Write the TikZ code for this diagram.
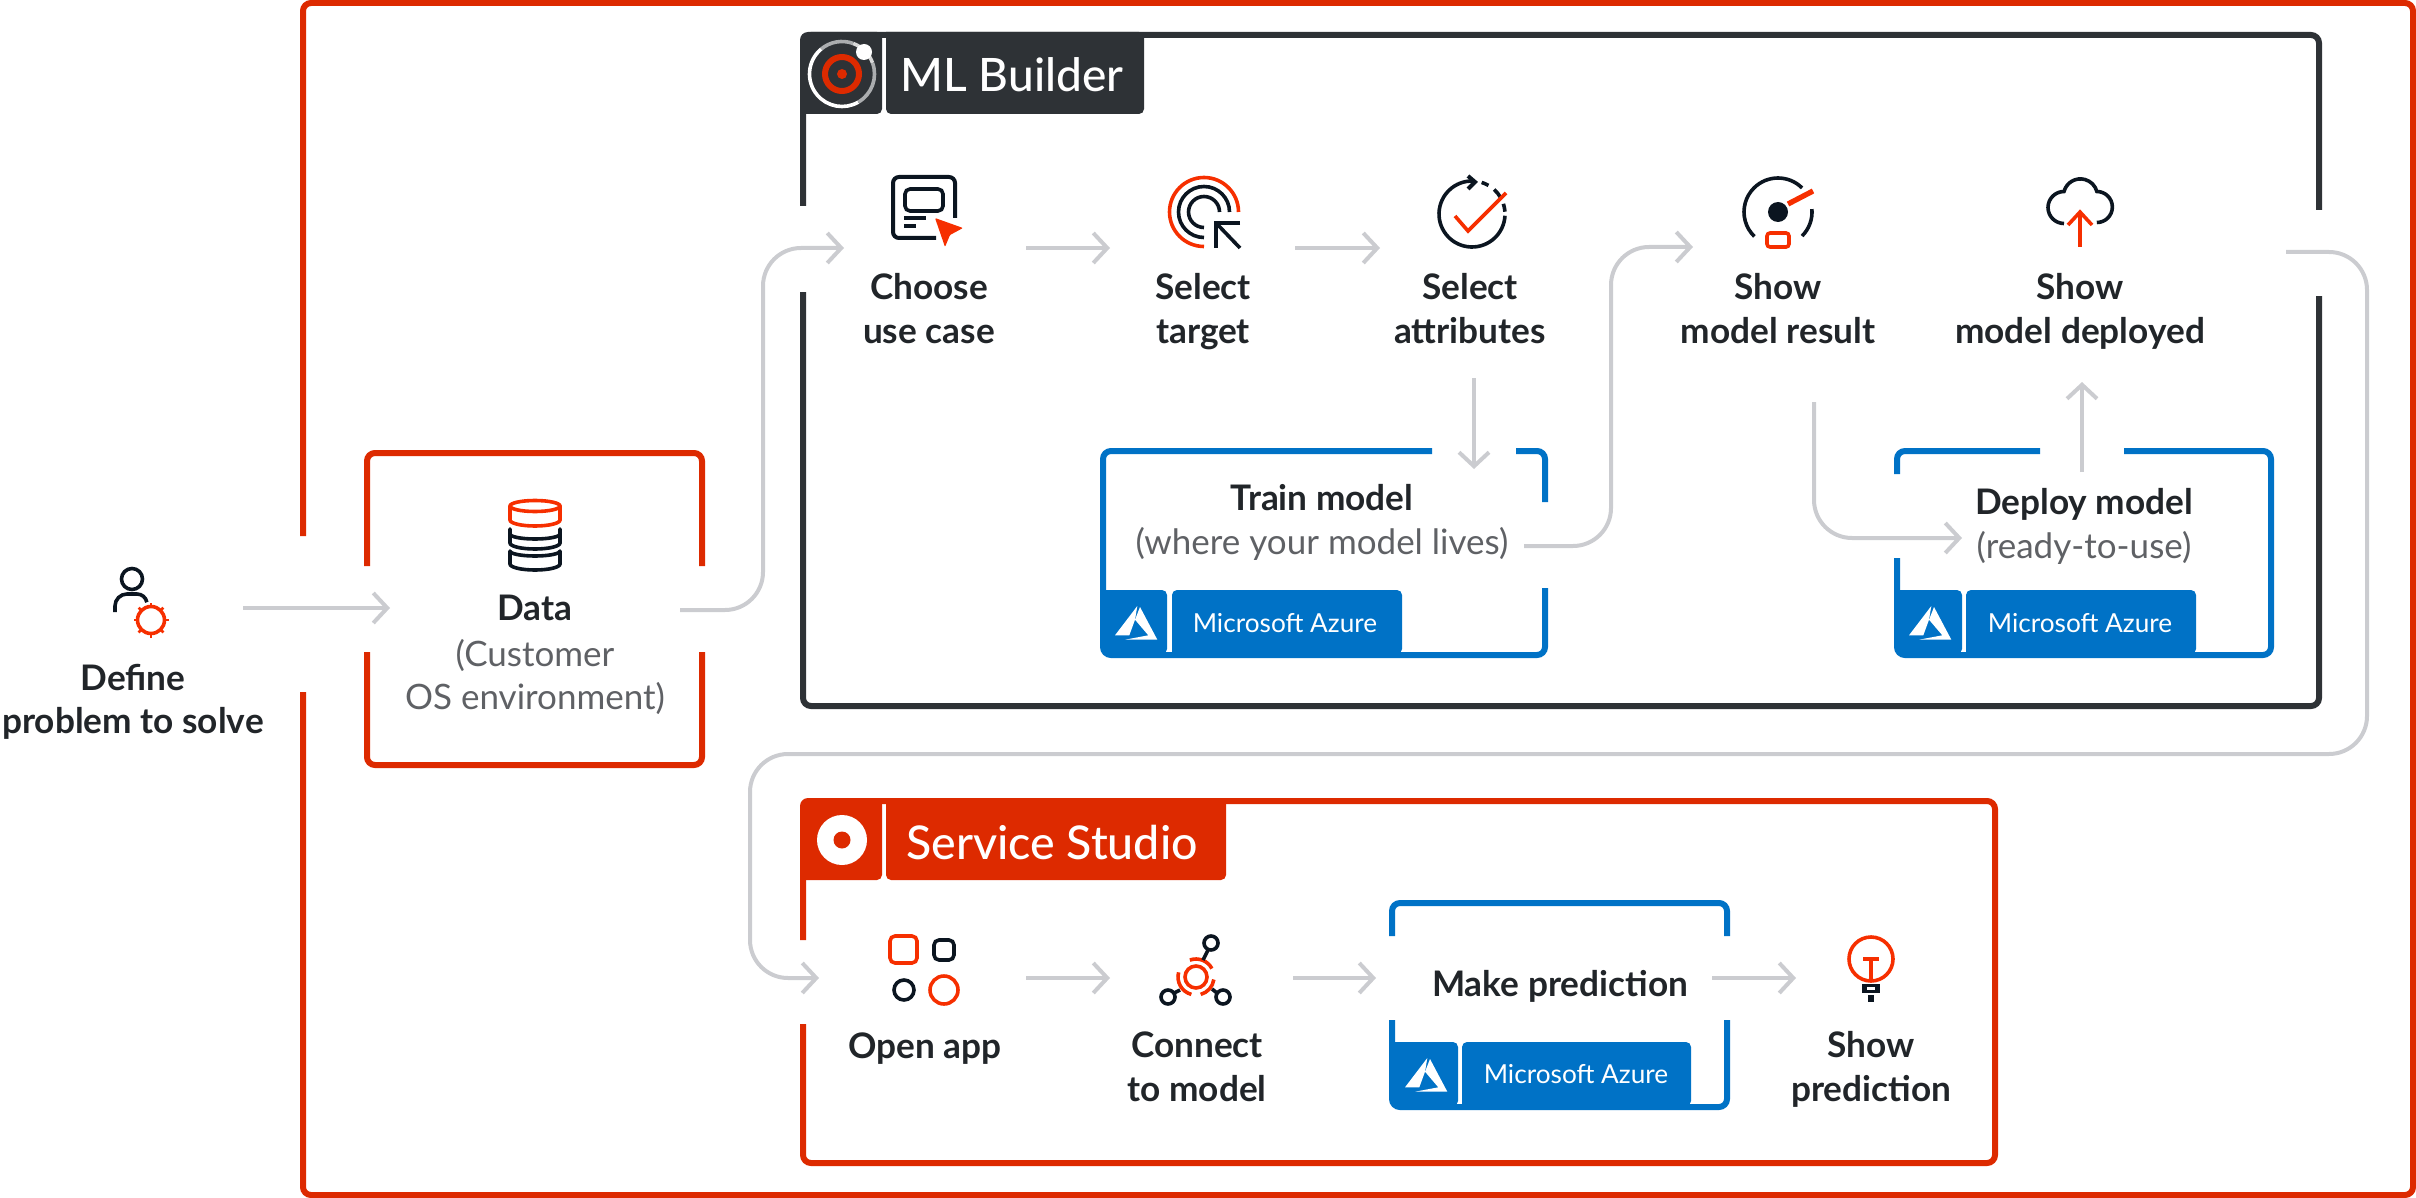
\documentclass[tikz,border=0pt]{standalone}
\usepackage{fontspec}
\setmainfont{Lato}
\newfontface\lblmed{Lato Medium}
\usetikzlibrary{arrows.meta}
\definecolor{framered}{HTML}{DD2A00}
\definecolor{iconred}{HTML}{F62F00}
\definecolor{azblue}{HTML}{0072C6}
\definecolor{darkframe}{HTML}{2E3236}
\definecolor{iconblack}{HTML}{0B1520}
\definecolor{txtdark}{HTML}{212529}
\definecolor{txtgrey}{HTML}{5F6165}
\definecolor{connc}{HTML}{CBCCD0}
\newcommand{\AzureLogo}[2]{%
  \begin{scope}[shift={(#1,#2)}]
    \fill[white] (1.3,16) -- (-21,-13.3) -- (-6.7,-13.3) -- (-1,2.3) -- cycle;
    \fill[white] (4,15) -- (21.3,-17.7) -- (-11,-17.7) -- (12.3,-13.3) -- (-1,2.3) -- cycle;
  \end{scope}}
\newcommand{\AzureTabs}[6]{%
  \fill[azblue] (#1,-#6) -- (#1,-#5) [rounded corners=5pt] -- (#2,-#5) -- (#2,-#6) [sharp corners] -- cycle;
  \fill[azblue] (#3,-#6) [rounded corners=5pt] -- (#3,-#5) -- (#4,-#5) -- (#4,-#6) [sharp corners] -- cycle;}
\tikzset{
  redframe/.style={draw=framered,line width=6pt,rounded corners=8pt},
  darkbox/.style={draw=darkframe,line width=6pt,rounded corners=8pt},
  blueframe/.style={draw=azblue,line width=6pt,rounded corners=8pt},
  conn/.style={draw=connc,line width=4pt,rounded corners=38pt,-{Straight Barb[length=14pt,width=30pt]}},
  ikb/.style={draw=iconblack,line width=3.6pt},
  ikr/.style={draw=iconred,line width=3.6pt},
  head/.style={inner sep=0pt,anchor=base,align=center,text=txtdark,font=\bfseries\fontsize{35.2}{43.5}\selectfont},
  sub/.style={inner sep=0pt,anchor=base,align=center,text=txtgrey,font=\fontsize{35}{43.5}\selectfont},
  aztext/.style={inner sep=0pt,anchor=base,text=white,font=\fontsize{26.2}{30}\selectfont},
}
\begin{document}
\begin{tikzpicture}[x=1pt,y=1pt]
\useasboundingbox (0,0) rectangle (2416,-1198);
% outer frame
\path[redframe] (303,-536) -- (303,-3) -- (2413,-3) -- (2413,-1195) -- (303,-1195) -- (303,-692);
% data frame
\path[redframe] (367,-566) -- (367,-453) -- (702,-453) -- (702,-566);
\path[redframe] (702,-652) -- (702,-765) -- (367,-765) -- (367,-652);
% ML Builder frame
\path[darkbox] (803,-206) -- (803,-35) -- (2319,-35) -- (2319,-210);
\path[darkbox] (2319,-296) -- (2319,-706) -- (803,-706) -- (803,-292);
\fill[darkframe] (800,-114) [rounded corners=5pt] -- (882,-114) -- (882,-32) [sharp corners] -- (808,-32) [rounded corners=8pt] -- (800,-32) [sharp corners] -- cycle;
\fill[darkframe] (886,-32) [rounded corners=5pt] -- (886,-114) -- (1144,-114) -- (1144,-32) [sharp corners] -- cycle;
\node[inner sep=0pt,anchor=base,text=white,font=\lblmed\fontsize{46}{50}\selectfont] (mlb) at (1012,-92) {ML Builder};
% ML logo
\draw[line width=3.6pt,draw=white!85!black] (842,-74) ++(20:32.5) arc (20:70:32.5);
\draw[line width=3.6pt,draw=white!60!darkframe] (842,-74) ++(70:32.5) arc (70:130:32.5);
\draw[line width=3.6pt,draw=white] (842,-74) ++(130:32.5) arc (130:300:32.5);
\draw[line width=3.6pt,draw=white!60!darkframe] (842,-74) ++(300:32.5) arc (300:380:32.5);
\draw[draw=framered,line width=6pt] (842,-74) circle (17);
\fill[framered] (842,-74) circle (5);
\fill[white] (864,-52) circle (8);
% Service Studio frame
\path[redframe] (803,-940) -- (803,-801) -- (1995,-801) -- (1995,-1163) -- (803,-1163) -- (803,-1024);
\fill[framered] (800,-880) [rounded corners=5pt] -- (882,-880) -- (882,-798) [sharp corners] -- (808,-798) [rounded corners=8pt] -- (800,-798) [sharp corners] -- cycle;
\fill[framered] (886,-798) [rounded corners=5pt] -- (886,-880) -- (1226,-880) -- (1226,-798) [sharp corners] -- cycle;
\node[inner sep=0pt,anchor=base,text=white,font=\lblmed\fontsize{46.5}{50}\selectfont] (ss) at (1052,-859) {Service Studio};
\fill[white] (842,-840) circle (25);
\fill[framered] (842,-840) circle (8.5);
% Train box
\path[blueframe] (1432,-451) -- (1103,-451) -- (1103,-655) -- (1545,-655) -- (1545,-588);
\path[blueframe] (1545,-502) -- (1545,-451) -- (1516,-451);
\AzureTabs{1103}{1167}{1172}{1402}{590}{654}
\AzureLogo{1136}{-622}
\node[aztext] (az1) at (1285,-632) {Microsoft Azure};
% Deploy box
\path[blueframe] (2040,-451) -- (1897,-451) -- (1897,-474);
\path[blueframe] (1897,-558) -- (1897,-655) -- (2271,-655) -- (2271,-451) -- (2124,-451);
\AzureTabs{1897}{1962}{1966}{2196}{590}{654}
\AzureLogo{1930}{-622}
\node[aztext] (az2) at (2080,-632) {Microsoft Azure};
% Make prediction box
\path[blueframe] (1392,-936) -- (1392,-903) -- (1727,-903) -- (1727,-936);
\path[blueframe] (1727,-1020) -- (1727,-1107) -- (1392,-1107) -- (1392,-1020);
\AzureTabs{1392}{1458}{1462}{1691}{1042}{1106}
\AzureLogo{1426}{-1074}
\node[aztext] (az3) at (1576,-1083) {Microsoft Azure};
% labels (a many-line node is anchored at the baseline of its last line)
\node[head] (define) at (133,-733.5) {Define\\problem to solve};
\node[head] (data) at (535,-620) {Data};
\node[sub] (datasub) at (535,-709.5) {(Customer\\OS environment)};
\node[head] (choose) at (929,-343) {Choose\\use case};
\node[head] (target) at (1203,-343) {Select\\target};
\node[head] (attrs) at (1470,-343) {Select\\attributes};
\node[head] (result) at (1778,-343) {Show\\model result};
\node[head] (deployed) at (2080,-343) {Show\\model deployed};
\node[head] (train) at (1322,-510) {Train model};
\node[sub] (trainsub) at (1322,-554.5) {(where your model lives)};
\node[head] (deploy) at (2084,-514.5) {Deploy model};
\node[sub] (deploysub) at (2084,-558) {(ready-to-use)};
\node[head] (open) at (925,-1058) {Open app};
\node[head] (connect) at (1197,-1101) {Connect\\to model};
\node[head] (make) at (1560,-996) {Make prediction};
\node[head] (showp) at (1871,-1101) {Show\\prediction};
% connector ends
\coordinate (c1a) at (243,-608); \coordinate (c1b) at (390,-608);
\coordinate (c2a) at (680,-610); \coordinate (c2m) at (763,-610); \coordinate (c2n) at (763,-248); \coordinate (c2b) at (844,-248);
\coordinate (c3a) at (1026,-248); \coordinate (c3b) at (1110,-248);
\coordinate (c4a) at (1295,-248); \coordinate (c4b) at (1380,-248);
\coordinate (c5a) at (1474,-378); \coordinate (c5b) at (1474,-469);
\coordinate (c6a) at (1524,-546); \coordinate (c6m) at (1611,-546); \coordinate (c6n) at (1611,-247); \coordinate (c6b) at (1693,-247);
\coordinate (c7a) at (1814,-402); \coordinate (c7m) at (1814,-538); \coordinate (c7b) at (1962,-538);
\coordinate (c8a) at (2082,-472); \coordinate (c8b) at (2082,-382);
\coordinate (c9a) at (2286,-252); \coordinate (c9m) at (2367,-252); \coordinate (c9n) at (2367,-754); \coordinate (c9o) at (750,-754); \coordinate (c9p) at (750,-978); \coordinate (c9b) at (819,-978);
\coordinate (c10a) at (1026,-978); \coordinate (c10b) at (1110,-978);
\coordinate (c11a) at (1293,-978); \coordinate (c11b) at (1376,-978);
\coordinate (c12a) at (1712,-978); \coordinate (c12b) at (1796,-978);
\draw[conn] (c1a) -- (c1b);
\draw[conn] (c2a) -- (c2m) -- (c2n) -- (c2b);
\draw[conn] (c3a) -- (c3b);
\draw[conn] (c4a) -- (c4b);
\draw[conn] (c5a) -- (c5b);
\draw[conn] (c6a) -- (c6m) -- (c6n) -- (c6b);
\draw[conn] (c7a) -- (c7m) -- (c7b);
\draw[conn] (c8a) -- (c8b);
\draw[conn] (c9a) -- (c9m) -- (c9n) -- (c9o) -- (c9p) -- (c9b);
\draw[conn] (c10a) -- (c10b);
\draw[conn] (c11a) -- (c11b);
\draw[conn] (c12a) -- (c12b);
% user icon
\draw[ikb] (132,-579) circle (10.5);
\draw[ikb] (115,-612) -- (115,-606) arc (180:90:12) -- (137,-594) arc (90:10:10);
\draw[ikr] (151,-620) circle (13.5);
\foreach \a in {0,45,...,315}{\draw[iconred,line width=2.5pt] (151,-620) ++(\a:13.5) -- ++(\a:4);}
% data icon
\draw[ikb,line cap=round] (510,-529) -- (510,-543) arc (180:360:25 and 6) -- (560,-529);
\draw[ikb] (510,-534) arc (180:360:25 and 5);
\draw[ikb,line cap=round] (510,-551) -- (510,-564) arc (180:360:25 and 6) -- (560,-551);
\draw[ikb] (510,-551) arc (180:360:25 and 5);
\draw[ikr] (535,-506) ellipse (25 and 5.5);
\draw[ikr] (510,-506) -- (510,-520) arc (180:360:25 and 6) -- (560,-506);
% choose icon
\draw[ikb,line width=4pt,rounded corners=6pt] (955,-218) -- (955,-177) -- (893,-177) -- (893,-238) -- (936,-238);
\draw[ikb,rounded corners=5pt] (905,-189) rectangle (943,-211);
\draw[ikb] (904,-218) -- (926,-218);
\draw[ikb] (904,-226) -- (916,-226);
\fill[iconred,rounded corners=1pt] (935,-218) -- (963,-228) -- (950,-235) -- (945,-247) -- cycle;
% target icon
\draw[ikr] (1238.5,-212) arc (0:270:34.5);
\draw[ikb] (1229.5,-212) arc (0:270:25.5);
\draw[ikb] (1219.5,-212) arc (0:270:15.5);
\draw[ikb] (1240,-223) -- (1214,-223);
\draw[ikb] (1216,-223) -- (1216,-248);
\draw[ikb] (1216,-223) -- (1240,-248);
% attributes icon
\draw[ikb] (1472,-214) ++(88:33) arc (88:357:33);
\draw[ikb,line width=4pt] (1468,-176) -- (1475,-182) -- (1468,-189);
\draw[ikb] (1472,-214) ++(73:33) arc (73:60:33);
\draw[ikb] (1472,-214) ++(48:33) arc (48:30:33);
\draw[ikb] (1472,-214) ++(18:33) arc (18:4:33);
\draw[ikr] (1455,-216) -- (1468,-231) -- (1506,-193);
% gauge icon
\draw[ikb] (1778,-212) ++(45:34) arc (45:226:34);
\draw[ikb] (1778,-212) ++(5:34) arc (5:-45:34);
\fill[iconblack] (1778,-212) circle (10);
\draw[iconred,line width=5.3pt] (1788,-204) -- (1813,-191);
\draw[ikr,rounded corners=3pt] (1767,-233) rectangle (1789,-247);
% cloud icon
\draw[ikb] (2064,-223.5) arc (270:90:16) arc (165:15:17) arc (90:-90:15.5);
\draw[ikr] (2080,-247) -- (2080,-213);
\draw[ikr] (2068,-225) -- (2080,-212) -- (2092,-225);
% open-app icon
\draw[ikr,rounded corners=5pt] (890,-936) rectangle (917,-963);
\draw[ikb,rounded corners=5pt] (934,-940) rectangle (954,-960);
\draw[ikb] (904,-990) circle (10);
\draw[ikr] (944,-990) circle (14);
% connect icon
\draw[ikr] (1196,-977) circle (11);
\draw[ikr] (1196,-977) ++(110:18) arc (110:28:18);
\draw[ikr] (1196,-977) ++(165:18) arc (165:255:18);
\draw[ikr] (1196,-977) ++(285:18) arc (285:352:18);
\draw[ikb] (1211,-943) circle (7);
\draw[ikb] (1168,-997) circle (7);
\draw[ikb] (1223,-997) circle (7);
\draw[ikb] (1208,-950) -- (1203,-960);
\draw[ikb] (1174,-993) -- (1180,-990);
\draw[ikb] (1217,-993) -- (1212,-989);
% bulb icon
\draw[ikr] (1871,-959) circle (22);
\draw[ikr] (1863,-959) -- (1879,-959);
\draw[ikr] (1871,-959) -- (1871,-980);
\fill[iconblack] (1862,-984) rectangle (1880,-993);
\fill[white] (1867,-987) rectangle (1875,-989.5);
\fill[iconblack] (1868,-995) rectangle (1874,-1002);
\end{tikzpicture}
\end{document}
